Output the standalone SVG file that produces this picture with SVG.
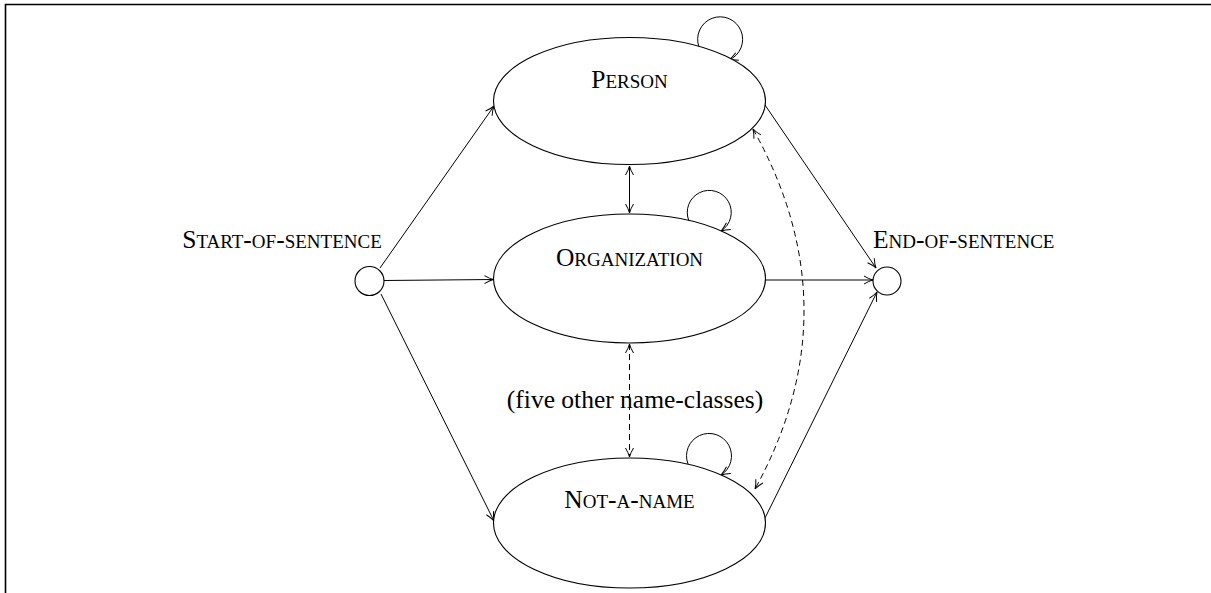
<svg xmlns="http://www.w3.org/2000/svg" width="1211" height="593" viewBox="0 0 1211 593">
<style>
  .n { fill: #fff; stroke: #000; stroke-width: 1.1; }
  .c { fill: none; stroke: #000; stroke-width: 1; }
  .d { stroke-dasharray: 6 4; }
  text { font-family: "Liberation Serif", "Times New Roman", serif; fill: #000; }
  .big { font-size: 25.5px; }
  .sm { font-size: 19px; }
</style>
<defs>
  <marker id="ah" markerUnits="userSpaceOnUse" viewBox="0 0 12 10" markerWidth="12" markerHeight="10" refX="10" refY="5" orient="auto-start-reverse">
    <path d="M1,1 Q6,4 10,5 Q6,6 1,9" fill="none" stroke="#000" stroke-width="1"/>
  </marker>
</defs>
<rect x="0" y="0" width="1211" height="593" fill="#fff"/>
<path d="M5.5,600 L5.5,4.5 L1220,4.5" fill="none" stroke="#000" stroke-width="1.6"/>

<g id="connectors">
  <path class="c" d="M380,268 L494,106" marker-end="url(#ah)"/>
  <path class="c" d="M384,280.5 L493.5,279.5" marker-end="url(#ah)"/>
  <path class="c" d="M381,294 L494,521" marker-end="url(#ah)"/>
  <path class="c" d="M765,105 L876,268" marker-end="url(#ah)"/>
  <path class="c" d="M765.5,280 L873,280" marker-end="url(#ah)"/>
  <path class="c" d="M765,518 L877,292" marker-end="url(#ah)"/>
  <path class="c" d="M629.5,166 L629.5,213" marker-start="url(#ah)" marker-end="url(#ah)"/>
  <path class="c d" d="M629.5,344 L629.5,457" marker-start="url(#ah)" marker-end="url(#ah)"/>
  <path class="c d" d="M753,129 Q854,309 755,489" marker-start="url(#ah)" marker-end="url(#ah)"/>
  <path class="c" d="M699,47 A22.5,22.5 0 1 1 729,60" marker-end="url(#ah)"/>
  <path class="c" d="M689,221 A22,22 0 1 1 721,231" marker-end="url(#ah)"/>
  <path class="c" d="M688,464 A22.5,22.5 0 1 1 721,475" marker-end="url(#ah)"/>
</g>

<g id="start">
  <circle class="n" cx="369.5" cy="281" r="14.5"/>
  <text x="282" y="248" text-anchor="middle"><tspan class="big">S</tspan><tspan class="sm">TART</tspan><tspan class="big">-</tspan><tspan class="sm">OF</tspan><tspan class="big">-</tspan><tspan class="sm">SENTENCE</tspan></text>
</g>

<g id="end">
  <circle class="n" cx="887" cy="281" r="14"/>
  <text x="873" y="248"><tspan class="big">E</tspan><tspan class="sm">ND</tspan><tspan class="big">-</tspan><tspan class="sm">OF</tspan><tspan class="big">-</tspan><tspan class="sm">SENTENCE</tspan></text>
</g>

<g id="person">
  <ellipse class="n" cx="629.5" cy="101" rx="136" ry="63.5"/>
  <text x="629.5" y="88" text-anchor="middle"><tspan class="big">P</tspan><tspan class="sm">ERSON</tspan></text>
</g>

<g id="organization">
  <ellipse class="n" cx="629.5" cy="278.5" rx="136" ry="64.5"/>
  <text x="629.5" y="266" text-anchor="middle"><tspan class="big">O</tspan><tspan class="sm">RGANIZATION</tspan></text>
</g>

<g id="not-a-name">
  <ellipse class="n" cx="629.5" cy="523" rx="136" ry="65"/>
  <text x="629.5" y="508" text-anchor="middle"><tspan class="big">N</tspan><tspan class="sm">OT</tspan><tspan class="big">-</tspan><tspan class="sm">A</tspan><tspan class="big">-</tspan><tspan class="sm">NAME</tspan></text>
</g>

<g id="other-classes">
  <text class="big" x="635" y="408" text-anchor="middle">(five other name-classes)</text>
</g>
</svg>
